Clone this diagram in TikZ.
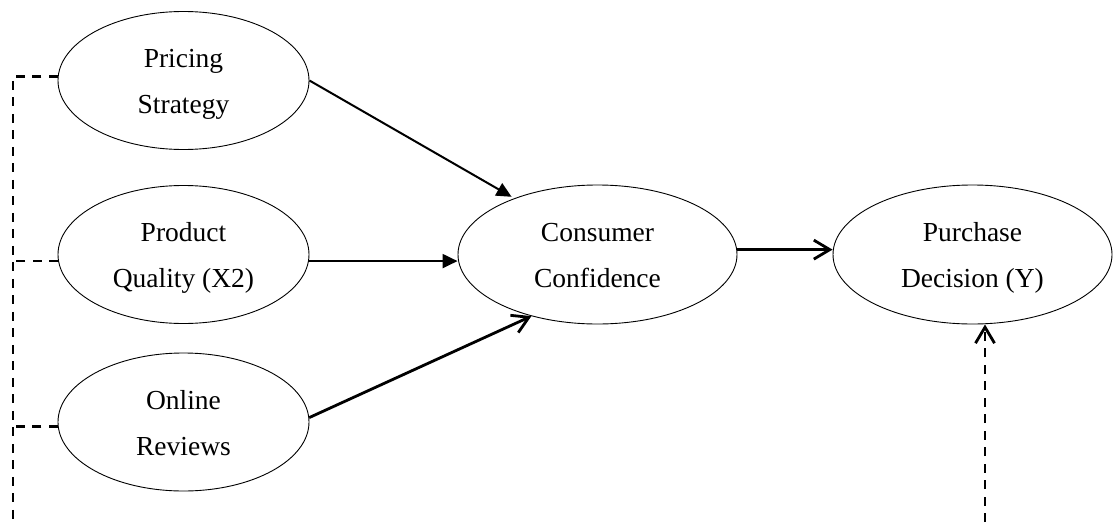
\documentclass[tikz,border=0pt]{standalone}
\usepackage{fontspec}
\setmainfont{Liberation Serif}
\usetikzlibrary{arrows.meta,shapes.geometric}
\begin{document}
\begin{tikzpicture}[x=1pt,y=-1pt,
  var/.style={ellipse, draw, line width=0.9pt, inner sep=0pt,
    font=\fontsize{27.5}{46}\selectfont, align=center, text height=70pt, text depth=4pt},
  smallvar/.style={var, minimum width=251pt, minimum height=138pt},
  bigvar/.style={var, minimum width=279pt, minimum height=139pt},
  dashline/.style={line width=2.8pt, dash pattern=on 9pt off 7.5pt},
  thinarrow/.style={line width=2pt, -{Triangle[length=15pt,width=14pt]}},
  openarrow/.style={line width=2.8pt, -{Straight Barb[length=16pt,width=19pt]}}]
\fill[white] (0,0) rectangle (1113,522);
\useasboundingbox (0,0) rectangle (1113,522);

\node[smallvar] (p) at (183.5,80.5) {Pricing\\Strategy};
\node[smallvar] (q) at (183.5,254.5) {Product\\Quality (X2)};
\node[smallvar] (o) at (183.5,422) {Online\\Reviews};
\node[bigvar] (c) at (597.5,254.5) {Consumer\\Confidence};
\node[bigvar] (pd) at (972.5,254.5) {Purchase\\Decision (Y)};

\draw[thinarrow, shorten >=3pt] (p.east) -- (c.146);
\draw[thinarrow] (q.357) -- (q.357 -| c.west);
\draw[openarrow] (o.2.7) -- (c.223);
\draw[openarrow] (c.2.3) -- (c.2.3 -| pd.west);

\coordinate (lb) at (13,522);
\coordinate (rb) at (985,522);
\draw[dashline] (p.178.9) -| (lb);
\draw[dashline] (q.183.4) -- (q.183.4 -| lb);
\draw[dashline] (o.182.3) -- (o.182.3 -| lb);
\draw[dashline, -{Straight Barb[length=16pt,width=19pt]}] (rb) -- (rb |- pd.south);
\end{tikzpicture}
\end{document}
